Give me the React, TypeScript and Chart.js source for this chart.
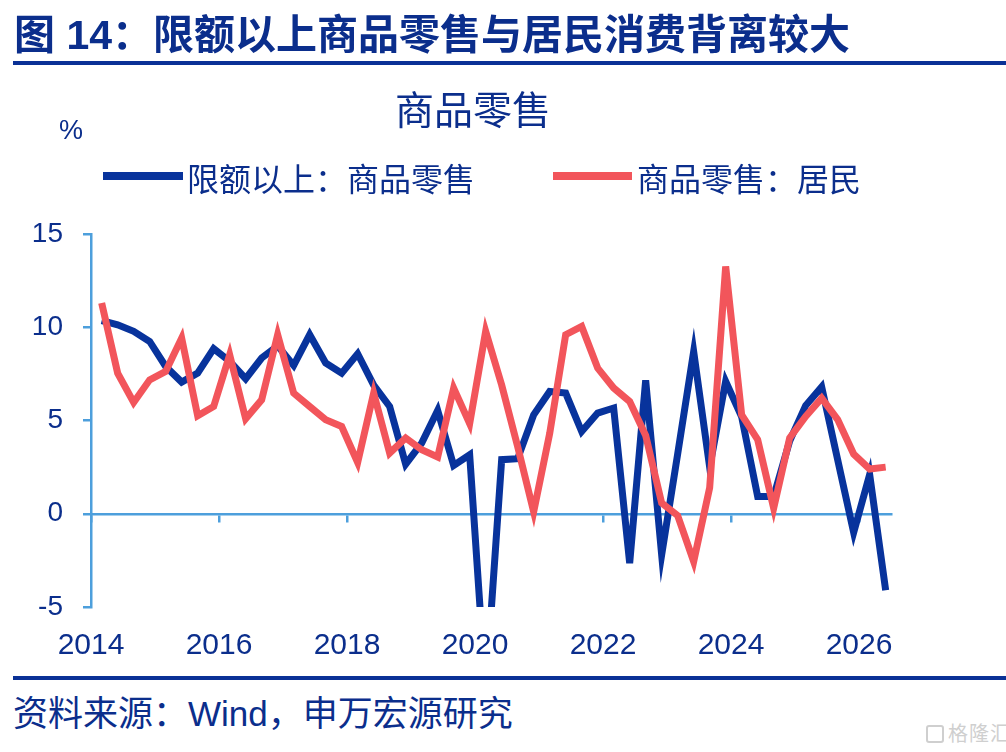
import { useEffect, useRef } from 'react';
import Chart from 'chart.js/auto';

// quarterly observations (month shown is the last month of each quarter)
const quarters = [
  '2014-03', '2014-06', '2014-09', '2014-12',
  '2015-03', '2015-06', '2015-09', '2015-12',
  '2016-03', '2016-06', '2016-09', '2016-12',
  '2017-03', '2017-06', '2017-09', '2017-12',
  '2018-03', '2018-06', '2018-09', '2018-12',
  '2019-03', '2019-06', '2019-09', '2019-12',
  '2020-03', '2020-06', '2020-09', '2020-12',
  '2021-03', '2021-06', '2021-09', '2021-12',
  '2022-03', '2022-06', '2022-09', '2022-12',
  '2023-03', '2023-06', '2023-09', '2023-12',
  '2024-03', '2024-06', '2024-09', '2024-12',
  '2025-03', '2025-06', '2025-09', '2025-12',
  '2026-03', '2026-06',
];

const aboveLimitRetail = [
  10.35, 10.13, 9.78, 9.24, 7.9, 7.06, 7.54, 8.85,
  8.17, 7.24, 8.35, 9.0, 7.95, 9.6, 8.08, 7.54,
  8.58, 6.9, 5.75, 2.66, 3.79, 5.54, 2.59, 3.16,
  -9.5, 2.9, 2.95, 5.3, 6.56, 6.47, 4.41, 5.4,
  5.67, -2.65, 7.15, -2.2, 3.2, 8.7, 2.5, 7.1,
  5.2, 0.93, 0.93, 3.9, 5.8, 6.8, 2.9, -1.0,
  2.1, -4.1,
];

const householdRetail = [
  11.3, 7.54, 5.97, 7.18, 7.63, 9.42, 5.25, 5.75,
  8.52, 5.09, 6.11, 9.6, 6.47, 5.75, 5.04, 4.68,
  2.75, 6.47, 3.25, 4.06, 3.43, 3.04, 6.74, 4.83,
  9.78, 6.9, 3.6, 0.1, 4.3, 9.6, 10.04, 7.81,
  6.74, 6.02, 4.2, 0.57, -0.1, -2.56, 1.4, 13.26,
  5.3, 3.97, 0.3, 4.06, 5.22, 6.2, 5.05, 3.2,
  2.4, 2.5,
];

const seriesNames = ['限额以上：商品零售', '商品零售：居民'];

const xMin = 2014;
const xMax = 2026.5;
const xStep = 2;
const yMin = -5;
const yMax = 15;
const yStep = 5;

const BLUE = '#08339c';
const RED = '#f2555b';
const AXIS = '#4d9fdc';
const TEXT = '#0b2e8c';
const FONT = "'Liberation Sans', Arial, 'Noto Sans CJK SC', sans-serif";
const CJK = "'Liberation Sans', 'Noto Sans CJK SC', sans-serif";

function toYear(q: string) {
  const [y, m] = q.split('-').map(Number);
  return y + (m - 1) / 12;
}

function RetailChart() {
  const chartRef = useRef<HTMLCanvasElement>(null);
  const chartInstance = useRef<Chart | null>(null);

  useEffect(() => {
    if (!chartRef.current) return;
    if (chartInstance.current) {
      chartInstance.current.destroy();
    }
    const ctx = chartRef.current.getContext('2d');
    if (!ctx) return;

    const xs = quarters.map(toYear);

    chartInstance.current = new Chart(ctx, {
      type: 'line',
      data: {
        datasets: [
          {
            label: seriesNames[0],
            data: xs.map((x, i) => ({ x, y: aboveLimitRetail[i] })),
            borderColor: BLUE,
            borderWidth: 7,
            pointRadius: 0,
            tension: 0,
            order: 2,
            xAxisID: 'x',
          },
          {
            // red line sits on top of the blue one
            label: seriesNames[1],
            data: xs.map((x, i) => ({ x, y: householdRetail[i] })),
            borderColor: RED,
            borderWidth: 7,
            pointRadius: 0,
            tension: 0,
            order: 1,
            xAxisID: 'x',
          },
        ],
      },
      options: {
        animation: false,
        responsive: true,
        maintainAspectRatio: false,
        layout: {
          padding: { top: 234, right: 115, left: 0, bottom: 0 },
        },
        plugins: {
          legend: { display: false },
          tooltip: { enabled: false },
        },
        scales: {
          x: {
            type: 'linear',
            position: 'bottom',
            min: xMin,
            max: xMax,
            afterFit: (scale) => {
              scale.height = 73;
            },
            grid: { display: false, drawTicks: false },
            border: { display: false },
            ticks: {
              stepSize: xStep,
              includeBounds: false,
              maxRotation: 0,
              autoSkip: false,
              padding: 21,
              color: TEXT,
              font: { family: FONT, size: 30 },
              callback: (v) => String(v),
            },
          },
          x0: {
            type: 'linear',
            axis: 'x',
            position: { y: 0 },
            min: xMin,
            max: xMax,
            grid: {
              drawOnChartArea: false,
              drawTicks: true,
              tickLength: 7,
              tickColor: AXIS,
              lineWidth: 2.5,
            },
            border: { color: AXIS, width: 2.5 },
            ticks: {
              stepSize: xStep,
              includeBounds: false,
              display: false,
            },
          },
          y: {
            min: yMin,
            max: yMax,
            afterFit: (scale) => {
              scale.width = 91;
            },
            grid: {
              drawOnChartArea: false,
              drawTicks: true,
              tickLength: 8,
              tickColor: AXIS,
              lineWidth: 2.5,
            },
            border: { color: AXIS, width: 2.5 },
            ticks: {
              stepSize: yStep,
              padding: 20,
              color: TEXT,
              font: { family: FONT, size: 28 },
            },
          },
        },
      },
    });

    return () => {
      if (chartInstance.current) {
        chartInstance.current.destroy();
        chartInstance.current = null;
      }
    };
  }, []);

  return (
    <div style={{ position: 'absolute', left: 0, top: 0, width: 1006, height: 680 }}>
      <canvas ref={chartRef} />
    </div>
  );
}

export default function App() {
  const abs = { position: 'absolute' as const, whiteSpace: 'nowrap' as const };
  return (
    <div style={{ position: 'absolute', left: 0, top: 0, width: 1006, height: 752, background: '#fff', overflow: 'hidden' }}>
      <RetailChart />
      <div style={{ ...abs, left: 14, top: 15, fontFamily: CJK, fontWeight: 700, fontSize: 41, lineHeight: '41px', color: TEXT }}>
        图 14：限额以上商品零售与居民消费背离较大
      </div>
      <div style={{ ...abs, left: 13, top: 61, width: 993, height: 4, background: '#0a3196' }} />
      <div style={{ ...abs, left: 473, top: 91, transform: 'translateX(-50%)', fontFamily: CJK, fontSize: 39, lineHeight: '39px', color: TEXT }}>
        商品零售
      </div>
      <div style={{ ...abs, left: 59, top: 117, fontFamily: FONT, fontSize: 27, lineHeight: '27px', color: TEXT }}>%</div>
      <div style={{ ...abs, left: 103, top: 172, width: 80, height: 8, background: BLUE }} />
      <div style={{ ...abs, left: 187, top: 164, fontFamily: CJK, fontSize: 32, lineHeight: '32px', color: TEXT }}>
        {seriesNames[0]}
      </div>
      <div style={{ ...abs, left: 553, top: 172, width: 79, height: 8, background: RED }} />
      <div style={{ ...abs, left: 637, top: 164, fontFamily: CJK, fontSize: 32, lineHeight: '32px', color: TEXT }}>
        {seriesNames[1]}
      </div>
      <div style={{ ...abs, left: 13, top: 676, width: 993, height: 4, background: '#0a3196' }} />
      <div style={{ ...abs, left: 13, top: 696, fontFamily: CJK, fontSize: 35, lineHeight: '35px', color: TEXT }}>
        资料来源：Wind，申万宏源研究
      </div>
      <div style={{ ...abs, left: 926, top: 724, display: 'flex', alignItems: 'center', gap: 4, color: '#cfcfcf', fontFamily: CJK, fontSize: 20, lineHeight: '20px', letterSpacing: 1 }}>
        <span style={{ display: 'inline-block', width: 18, height: 18, border: '2px solid #cfcfcf', borderRadius: 3, boxSizing: 'border-box' }} />
        格隆汇
      </div>
    </div>
  );
}
